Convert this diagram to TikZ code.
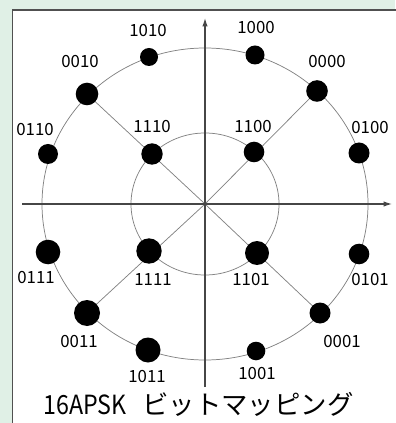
\documentclass[tikz,border=0pt]{standalone}
\usepackage{fontspec}
\usepackage{xcolor}
\usepackage{tikz}
\usetikzlibrary{arrows.meta}
\newfontfamily\jpfont{Noto Sans CJK JP}
\definecolor{VerdeFondo}{RGB}{224,240,230}
\definecolor{GrisMarco}{RGB}{80,80,80}
\definecolor{GrisEje}{RGB}{70,70,70}
\definecolor{GrisCirculo}{RGB}{130,130,130}

\begin{document}
\begin{tikzpicture}[x=0.75pt,y=-0.75pt,>={Latex[length=7pt,width=4pt]},
    circulo/.style={GrisCirculo,line width=0.55pt},
    eje/.style={GrisEje,line width=1.5pt},
    etiqueta/.style={inner sep=0pt,font=\jpfont\fontsize{12.6pt}{14pt}\selectfont}]
  \useasboundingbox (0,0) rectangle (395,423);
  \fill[VerdeFondo] (0,0) rectangle (395,423);
  \filldraw[fill=white,draw=GrisMarco,line width=0.9pt] (12.5,10) rectangle (400,430);
  \coordinate (O) at (205,204);
  % puntos de la constelacion: nombre/x/y
  \foreach \nombre/\x/\y in {1010/149/57, 1000/255/55, 0010/87/94,
      0000/317/91, 0110/48/154, 0100/359/153, 1110/152/154,
      1100/254/152, 0111/48/252, 1111/149/251, 1101/257/253,
      0101/359/254, 0011/87/313, 0001/320/313, 1011/148/350,
      1001/256/351}
    \coordinate (p\nombre) at (\x,\y);
  % anillos
  \draw[circulo] (O) ellipse [x radius=163, y radius=156];
  \draw[circulo] (O) ellipse [x radius=74, y radius=71];
  \foreach \p in {0000,0010,0011,0001}
    \draw[circulo] (O) -- (p\p);
  % ejes
  \coordinate (xizq) at (22,204);
  \coordinate (xder) at (393,204);
  \coordinate (yaba) at (205,387);
  \coordinate (yarr) at (205,17);
  \draw[eje,->] (xizq) -- (xder);
  \draw[eje,->] (yaba) -- (yarr);
  \foreach \nombre/\r in {1010/9, 1000/9.5, 0010/11.3, 0000/10.8, 0110/10,
      0100/10.5, 1110/10.7, 1100/10.3, 0111/12.3, 1111/12.7, 1101/12,
      0101/10.3, 0011/13, 0001/10.5, 1011/12.5, 1001/9.3}
    \fill (p\nombre) circle [radius=\r];
  % etiquetas
  \foreach \nombre/\x/\y in {1010/148/31, 1000/256/28, 0010/80/62, 0000/327/62,
      0110/35/130, 0100/370/128, 1110/152/127, 1100/253/127, 0111/36/278,
      1111/153/280, 1101/251/280, 0101/370/280, 0011/79/342, 0001/342/342,
      1011/147/377, 1001/257/374}
    \node[etiqueta] (e\nombre) at (\x,\y) {\nombre};
  \node[anchor=base west,inner sep=0pt,font=\jpfont\fontsize{19.8pt}{22pt}\selectfont]
    (titulo) at (43,414) {\scalebox{0.88}[1]{16APSK}\hspace{0.6em}ビットマッピング};
\end{tikzpicture}
\end{document}
